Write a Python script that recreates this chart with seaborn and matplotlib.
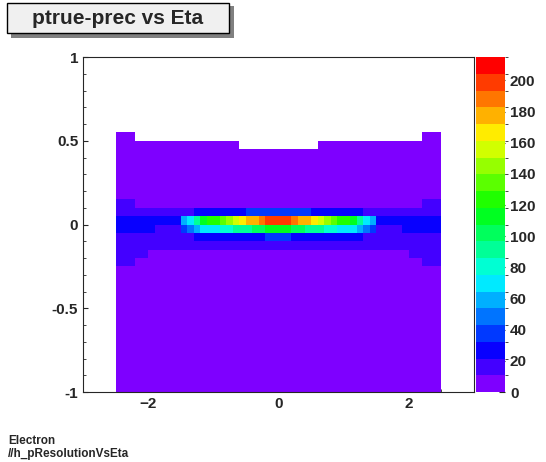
import numpy as np
import matplotlib
matplotlib.use("Agg")
import matplotlib.pyplot as plt
import seaborn as sns
from matplotlib.colors import ListedColormap, BoundaryNorm
from matplotlib.patches import Rectangle

sns.set_style("ticks")
plt.rcParams['font.family'] = ['Liberation Sans', 'DejaVu Sans']

x_edges = np.linspace(-2.5, 2.5, 51)
y_edges = np.linspace(-1, 1, 41)

x_core_half = [0.03]*10 + [0.2, 0.3, 0.4, 0.5, 0.55, 0.6, 0.65, 0.7, 0.75, 0.8, 0.85, 0.9, 0.95, 1.0, 1.0]
x_core = x_core_half + x_core_half[::-1]
x_bg_half = [1.3, 1.25, 1.2, 1.15, 1.1, 1.05, 1.0, 1.0, 1.0, 1.0, 1.0, 1.0, 1.0, 0.95, 0.95,
             0.9, 0.9, 0.9, 0.9, 0.85, 0.85, 0.85, 0.85, 0.85, 0.85]
x_bg = x_bg_half + x_bg_half[::-1]

y_core = [0]*17 + [2, 20, 95, 185, 25, 3] + [0]*17
y_bg = [3, 3, 3, 4, 4, 4, 5, 5, 5, 5,
        6, 6, 7, 7, 8, 9, 10, 12, 15, 18,
        18, 13, 9, 6, 4, 2.5, 1.5, 1.0, 0.8, 0.7,
        0.5, 0.45, 0.4, 0.4, 0.4, 0.4, 0.4, 0.4, 0.4, 0.4]

Z = np.outer(y_core, x_core) + np.outer(y_bg, x_bg)
Z = np.ma.masked_less(Z, 0.6)

levels = np.linspace(0, 215, 21)
cols = [matplotlib.colormaps['hsv'](v) for v in np.linspace(0.76, 0.0, 20)]
cmap = ListedColormap(cols)
cmap.set_bad('white')
norm = BoundaryNorm(levels, cmap.N)

fig = plt.figure(figsize=(5.46, 4.62), dpi=100)
ax = fig.add_axes([0.152, 0.1515, 0.716, 0.725])
mesh = ax.pcolormesh(x_edges, y_edges, Z, cmap=cmap, norm=norm)
ax.set_xlim(-3, 3)
ax.set_ylim(-1, 1)
ax.set_xticks([-2, 0, 2])
ax.set_yticks([-1, -0.5, 0, 0.5, 1])
ax.set_yticklabels(['-1', '-0.5', '0', '0.5', '1'])
ax.minorticks_on()
ax.tick_params(which='both', direction='in', top=False, right=False, labelsize=11)
for lab in ax.get_xticklabels() + ax.get_yticklabels():
    lab.set_fontweight('bold')

cax = fig.add_axes([0.872, 0.1515, 0.053, 0.725])
cb = fig.colorbar(mesh, cax=cax, ticks=np.arange(0, 201, 20))
cb.ax.tick_params(direction='in', labelsize=11, length=4)
cb.outline.set_visible(False)
for lab in cb.ax.get_yticklabels():
    lab.set_fontweight('bold')

# title box with shadow
fig.patches.append(Rectangle((0.020, 0.918), 0.408, 0.068, transform=fig.transFigure,
                             fc='#808080', ec='none', zorder=1))
fig.patches.append(Rectangle((0.012, 0.928), 0.408, 0.066, transform=fig.transFigure,
                             fc='#f0f0f0', ec='black', lw=1, zorder=2))
fig.text(0.216, 0.961, 'ptrue-prec vs Eta', fontsize=15, fontweight='bold', va='center', ha='center',
         zorder=3)
fig.text(0.015, 0.04, 'Electron', fontsize=8.5, fontweight='bold')
fig.text(0.015, 0.01, '//h_pResolutionVsEta', fontsize=8.5, fontweight='bold')

fig.savefig('out.png', dpi=100)
